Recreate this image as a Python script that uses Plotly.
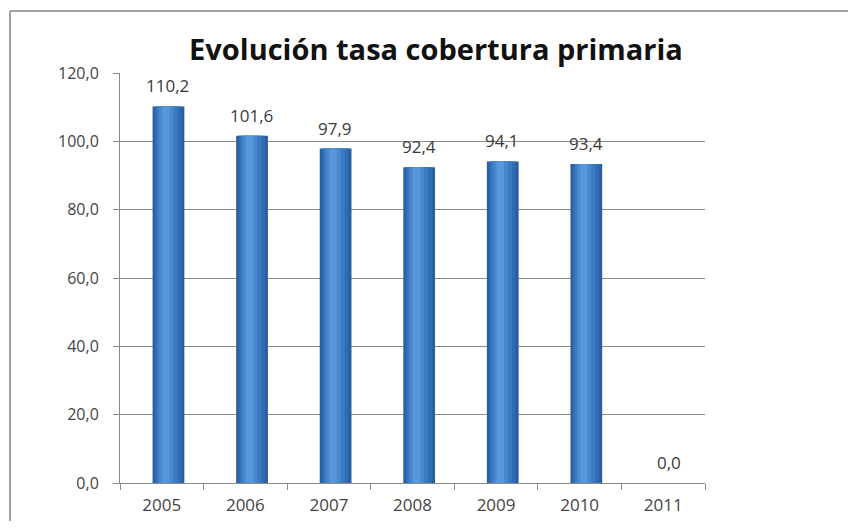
import plotly.graph_objects as go

years = ["2005", "2006", "2007", "2008", "2009", "2010", "2011"]
tasa = [110.2, 101.6, 97.9, 92.4, 94.1, 93.4, 0.0]
y_ticks = [0, 20, 40, 60, 80, 100, 120]

font_fam = "'Open Sans', sans-serif"

# page body has an 8px margin; figure sized so the page fits the 856x529 window
OFF = 8
W, H = 856 - OFF, 529 - 2 * OFF
# plot area geometry (figure pixels)
L, R, T, B = 120 - OFF, 705 - OFF, 73 - OFF, 483 - OFF

# bars sit slightly right of their category labels (3D perspective look)
SHIFT = 0.08

fig = go.Figure()

# cylinder shading: layered bars (widths/offsets/colours are style only)
shades = [
    (0.38, -0.19, "#2A5E9F"),
    (0.32, -0.165, "#316BB1"),
    (0.25, -0.14, "#3B79C1"),
    (0.17, -0.11, "#4788CF"),
    (0.09, -0.075, "#5797DA"),
]
for w, off, col in shades:
    fig.add_trace(go.Bar(
        x=years, y=tasa, width=w, offset=off + SHIFT,
        marker=dict(color=col, line=dict(width=0)),
        hoverinfo="skip", showlegend=False,
    ))

annotations = [
    dict(x=i, y=v, xref="x", yref="y", text=f"{v:.1f}".replace(".", ","),
         showarrow=False, yanchor="bottom", yshift=7, xshift=6,
         font=dict(family=font_fam, size=17, color="#3A3A3A"))
    for i, v in enumerate(tasa)
]

def px_x(p):
    return (p - OFF - L) / (R - L)

def px_y(p):
    return (B - (p - OFF)) / (B - T)

border = dict(color="#A0A0A0", width=2)

fig.update_layout(
    width=W, height=H,
    barmode="overlay",
    separators=",.",
    paper_bgcolor="white", plot_bgcolor="white",
    margin=dict(l=L, r=W - R, t=T, b=H - B, pad=0, autoexpand=False),
    title=dict(text="<b>Evolución tasa cobertura primaria</b>",
               x=(436 - OFF) / W, xanchor="center", y=1 - (50 - OFF) / H, yanchor="middle",
               font=dict(family=font_fam, size=29, color="#111111")),
    font=dict(family=font_fam, size=16, color="#444444"),
    xaxis=dict(type="category", categoryorder="array", categoryarray=years,
               range=[-0.5, len(years) - 0.5], automargin=False,
               showline=True, linecolor="#8A8A8A", linewidth=1,
               ticks="outside", tickson="boundaries", ticklen=6, tickcolor="#8A8A8A",
               ticklabelstandoff=7,
               tickfont=dict(size=17, color="#444444"), showgrid=False),
    yaxis=dict(range=[0, 120], tickvals=y_ticks, tickformat=".1f", automargin=False,
               showline=True, linecolor="#8A8A8A", linewidth=1,
               ticks="outside", ticklen=6, tickcolor="#8A8A8A",
               ticklabelstandoff=11,
               showgrid=True, gridcolor="#8C8C8C", gridwidth=1,
               zeroline=False, tickfont=dict(size=16, color="#444444")),
    annotations=annotations,
    shapes=[
        dict(type="line", xref="paper", yref="paper",
             x0=px_x(10), x1=px_x(900), y0=px_y(11), y1=px_y(11), line=border),
        dict(type="line", xref="paper", yref="paper",
             x0=px_x(10), x1=px_x(10), y0=px_y(11), y1=px_y(600), line=border),
    ],
)

fig.write_html("out.html")
